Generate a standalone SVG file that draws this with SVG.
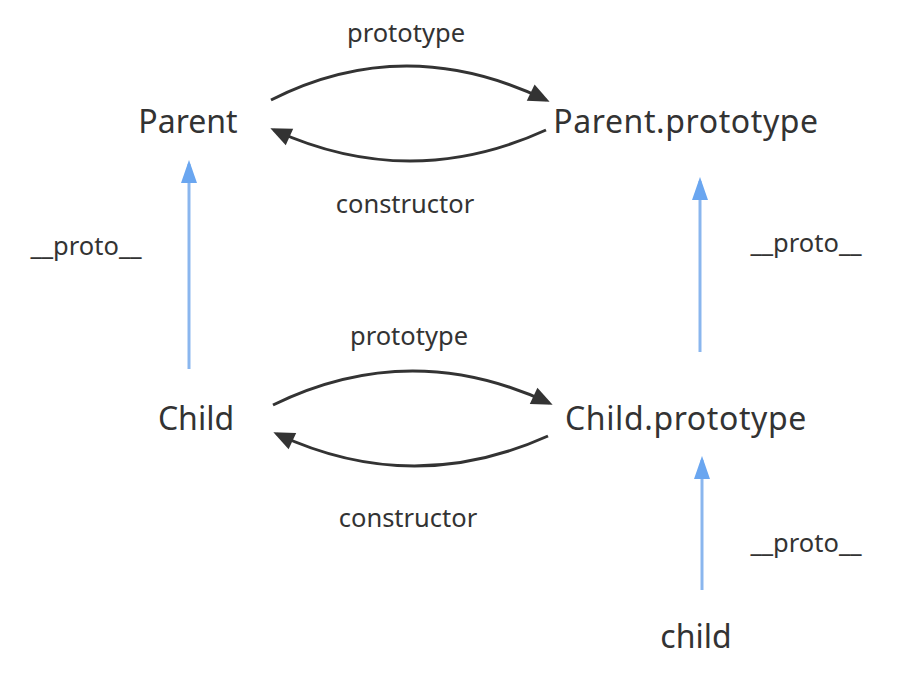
<svg xmlns="http://www.w3.org/2000/svg" width="904" height="674" viewBox="0 0 904 674">
  <style>
    .node { font-family: "Noto Sans", "Open Sans", sans-serif; font-size: 32px; fill: #333333; text-anchor: middle; }
    .wide { letter-spacing: 0.6px; }
    .label { font-family: "Noto Sans", "Open Sans", sans-serif; font-size: 25.5px; fill: #333333; text-anchor: middle; }
    .dark { fill: none; stroke: #333333; stroke-width: 3; }
    .blue { fill: none; stroke: #8ab6ee; stroke-width: 3; }
  </style>
  <defs>
    <!-- heads drawn with the tip at x=0; refX=-4 leaves the line end just behind the tip -->
    <marker id="headDark" viewBox="-24 -12 26 24" refX="-4" refY="0" markerWidth="26" markerHeight="24" markerUnits="userSpaceOnUse" orient="auto">
      <path d="M0,0 L-21,-9 L-21,9 Z" fill="#333333"/>
    </marker>
    <marker id="headBlue" viewBox="-26 -12 28 24" refX="-4" refY="0" markerWidth="28" markerHeight="24" markerUnits="userSpaceOnUse" orient="auto">
      <path d="M0,0 L-23,-8 L-23,8 Z" fill="#6aa6f0"/>
    </marker>
  </defs>

  <g id="connectors">
    <!-- Parent <-> Parent.prototype -->
    <path class="dark" d="M271,100 Q405,32 546,100" marker-end="url(#headDark)"/>
    <path class="dark" d="M546,130 Q410,192 274,130" marker-end="url(#headDark)"/>
    <!-- Child <-> Child.prototype -->
    <path class="dark" d="M273,405 Q410,338 549,403" marker-end="url(#headDark)"/>
    <path class="dark" d="M548,436 Q412,497 277,434" marker-end="url(#headDark)"/>
    <!-- __proto__ links -->
    <path class="blue" d="M189,369 L189,164" marker-end="url(#headBlue)"/>
    <path class="blue" d="M700,352 L700,181" marker-end="url(#headBlue)"/>
    <path class="blue" d="M702,590 L702,460" marker-end="url(#headBlue)"/>
  </g>

  <g id="edge-labels">
    <text class="label" x="406" y="42">prototype</text>
    <text class="label" x="405" y="213">constructor</text>
    <text class="label" x="409" y="345">prototype</text>
    <text class="label" x="408" y="527">constructor</text>
    <text class="label" x="86" y="255">__proto__</text>
    <text class="label" x="806" y="252">__proto__</text>
    <text class="label" x="806" y="552">__proto__</text>
  </g>

  <g id="node-parent"><text class="node" x="188" y="133">Parent</text></g>
  <g id="node-parent-prototype"><text class="node wide" x="686" y="133">Parent.prototype</text></g>
  <g id="node-child-ctor"><text class="node" x="196" y="430">Child</text></g>
  <g id="node-child-prototype"><text class="node wide" x="686" y="430">Child.prototype</text></g>
  <g id="node-child-instance"><text class="node" x="696" y="648">child</text></g>
</svg>
